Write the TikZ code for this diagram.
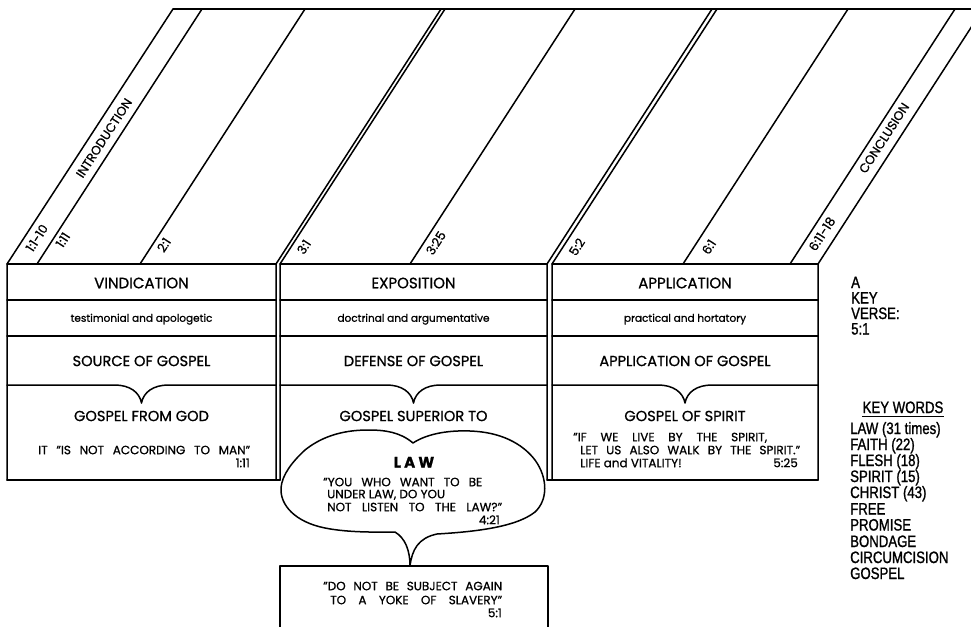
\documentclass[tikz,border=0pt]{standalone}
\usepackage{fontspec}
\setmainfont{Poppins}[FakeBold=0.9]
\newfontfamily\cond[FakeStretch=0.8,FakeBold=1.2]{Liberation Sans}
\begin{document}
\begin{tikzpicture}[x=1pt,y=-1pt,
  ln/.style={line width=1.5pt,line join=round,line cap=round},
  ttl/.style={inner sep=0pt,font=\fontsize{15}{17}\selectfont,text height=10.5pt,text depth=0pt},
  mid/.style={inner sep=0pt,font=\fontsize{14.6}{17}\selectfont,text height=10.2pt,text depth=0pt},
  sub/.style={inner sep=0pt,font=\fontsize{10.5}{12}\selectfont,text height=7.5pt,text depth=0pt},
  qt/.style={inner sep=0pt,font=\fontsize{12}{14}\selectfont,text height=8.4pt,text depth=0pt},
  lab/.style={inner sep=0pt,font=\fontsize{12.5}{14}\selectfont,text height=8.8pt,text depth=0pt,rotate=57},
  kwd/.style={inner sep=0pt,anchor=west,font=\cond\fontsize{16.5}{18}\selectfont,text height=12pt,text depth=0pt},
  law/.style={inner sep=0pt,font=\bfseries\fontsize{15}{17}\selectfont,text height=11pt,text depth=0pt}]
\useasboundingbox (0,0) rectangle (971,626);
\begin{scope}
\clip (0,0) rectangle (971,626);
% top band of slanted lines
\draw[ln] (173,9) -- (1000,9);
\draw[ln] (7,480) -- (7,264) -- (173,9);
\draw[ln] (37,264) -- (202,9);
\draw[ln] (140,264) -- (305,9);
\draw[ln] (276,480) -- (276,264) -- (441,9);
\draw[ln] (280,480) -- (280,264) -- (445,9);
\draw[ln] (410,264) -- (575,9);
\draw[ln] (547,480) -- (547,264) -- (712,9);
\draw[ln] (552,480) -- (552,264) -- (717,9);
\draw[ln] (683,264) -- (848,9);
\draw[ln] (790,264) -- (955,9);
\draw[ln] (818,480) -- (818,264) -- (983,9);
% bottom box (runs off the page)
\draw[ln] (280,640) -- (280,566) -- (548,566) -- (548,640);
\end{scope}
% slanted labels
\node[lab] (l1) at (37,238) {1:1-10};
\node[lab] (l2) at (63,240) {1:11};
\node[lab] (l3) at (164,245) {2:1};
\node[lab] (l4) at (304,247) {3:1};
\node[lab] (l5) at (436,243) {3:25};
\node[lab] (l6) at (577,247) {5:2};
\node[lab] (l7) at (709,247) {6:1};
\node[lab] (l8) at (822,234) {6:11-18};
\node[lab] (intro) at (104,138) {INTRODUCTION};
\node[lab] (concl) at (884,138) {CONCLUSION};
% table horizontal lines
\draw[ln] (7,264) -- (276,264);
\draw[ln] (280,264) -- (547,264);
\draw[ln] (552,264) -- (818,264);
\foreach \a/\b in {7/276,280/547,552/818}{
  \draw[ln] (\a,300) -- (\b,300);
  \draw[ln] (\a,336) -- (\b,336);
}
\foreach \a/\c/\b in {7/141.5/276,280/413.5/547,552/685/818}{
  \draw[ln] (\a,385) -- ({\c-27},385) .. controls ({\c-12},385) and ({\c-2},392) .. (\c,403)
     .. controls ({\c+2},392) and ({\c+12},385) .. ({\c+27},385) -- (\b,385);
}
\draw[ln] (7,480) -- (280,480);
\draw[ln] (547,480) -- (818,480);
% column texts
\node[ttl] (t1) at (141.5,283) {VINDICATION};
\node[ttl] (t2) at (413.5,283) {EXPOSITION};
\node[ttl] (t3) at (685,283) {APPLICATION};
\node[sub] (s1) at (141.5,318) {testimonial and apologetic};
\node[sub] (s2) at (413.5,318) {doctrinal and argumentative};
\node[sub] (s3) at (685,318) {practical and hortatory};
\node[mid] (m1) at (141.5,361) {SOURCE OF GOSPEL};
\node[mid] (m2) at (413.5,361) {DEFENSE OF GOSPEL};
\node[mid] (m3) at (685,361) {APPLICATION OF GOSPEL};
\node[mid] (g1) at (141.5,416) {GOSPEL FROM GOD};
\node[mid] (g2) at (413.5,416) {GOSPEL SUPERIOR TO};
\node[mid] (g3) at (685,416) {GOSPEL OF SPIRIT};
\node[qt,anchor=west] (q1) at (38,450) {\makebox[212pt][s]{IT ''IS NOT ACCORDING TO MAN''}};
\node[qt,anchor=east] (r1) at (250,463) {1:11};
\node[qt,anchor=west] (q3a) at (573,437) {\makebox[194pt][s]{''IF WE LIVE BY THE SPIRIT,}};
\node[qt,anchor=west] (q3b) at (580,450) {\makebox[220pt][s]{LET US ALSO WALK BY THE SPIRIT.''}};
\node[qt,anchor=west] (q3c) at (580,463) {LIFE and VITALITY!};
\node[qt,anchor=east] (r3) at (798,463) {5:25};
% cloud
\draw[ln,fill=white] (413,443) .. controls (400,432) and (385,430) .. (368,430)
  .. controls (340,430) and (320,438) .. (305,450)
  .. controls (292,462) and (282,475) .. (281,488)
  .. controls (280,505) and (295,522) .. (325,528)
  .. controls (350,533) and (380,532) .. (395,532)
  .. controls (405,538) and (410,550) .. (410,566)
  .. controls (412,550) and (418,538) .. (437,534)
  .. controls (470,532) and (515,528) .. (535,512)
  .. controls (548,500) and (548,478) .. (535,460)
  .. controls (522,443) and (500,432) .. (470,431)
  .. controls (445,430) and (425,435) .. (413,443) -- cycle;
\node[law] (lawt) at (414,462) {L A W};
\node[qt,anchor=west] (c1) at (323,482) {\makebox[159pt][s]{''YOU WHO WANT TO BE}};
\node[qt,anchor=west] (c2) at (327,494) {UNDER LAW, DO YOU};
\node[qt,anchor=west] (c3) at (327,507) {\makebox[175pt][s]{NOT LISTEN TO THE LAW?''}};
\node[qt,anchor=east] (c4) at (500,520) {4:21};
% bottom box text
\node[qt,anchor=west] (b1) at (323,586) {\makebox[179pt][s]{''DO NOT BE SUBJECT AGAIN}};
\node[qt,anchor=west] (b2) at (330,600) {\makebox[172pt][s]{TO A YOKE OF SLAVERY''}};
\node[qt,anchor=east] (b3) at (502,613) {5:1};
% key verse
\node[kwd] (kv1) at (851,282) {A};
\node[kwd] (kv2) at (851,297.5) {KEY};
\node[kwd] (kv3) at (851,313) {VERSE:};
\node[kwd] (kv4) at (851,328.5) {5:1};
% key words
\node[kwd,anchor=center] (kwt) at (903,407) {KEY WORDS};
\draw[line width=1pt] ([yshift=-3pt]kwt.south west) -- ([yshift=-3pt]kwt.south east);
\node[kwd] (w1) at (850,428) {LAW (31 times)};
\node[kwd] (w2) at (850,444) {FAITH (22)};
\node[kwd] (w3) at (850,460) {FLESH (18)};
\node[kwd] (w4) at (850,476) {SPIRIT (15)};
\node[kwd] (w5) at (850,492) {CHRIST (43)};
\node[kwd] (w6) at (850,508.5) {FREE};
\node[kwd] (w7) at (850,524.5) {PROMISE};
\node[kwd] (w8) at (850,541) {BONDAGE};
\node[kwd] (w9) at (850,557) {CIRCUMCISION};
\node[kwd] (w10) at (850,573) {GOSPEL};
\end{tikzpicture}
\end{document}
